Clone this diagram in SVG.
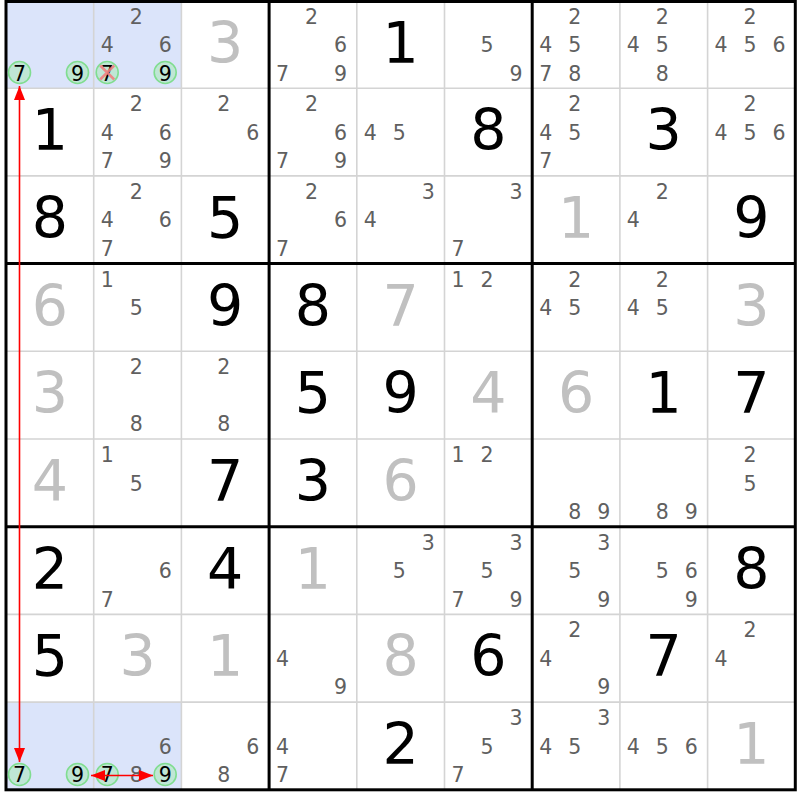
<svg xmlns="http://www.w3.org/2000/svg" width="800" height="800" viewBox="0 0 800 800">
<style>
text{font-family:"DejaVu Sans","Liberation Sans",sans-serif;text-anchor:middle}
.c{font-size:20.5px;fill:#606060}
.k{font-size:20.5px;fill:#000}
.v{font-size:57px;fill:#000}
.g{font-size:57px;fill:#c0c0c0}
.hl{fill:#dbe4fa}
.thin{stroke:#d4d4d4;stroke-width:1.6}
.thick{stroke:#000;stroke-width:3}
.ring{fill:#bfe6d5;stroke:#80dd90;stroke-width:1.6}
.arr{stroke:#ff0000;stroke-width:1.6;fill:none}
</style>
<defs>
<marker id="ah" viewBox="0 0 14 11" refX="14" refY="5.5" markerWidth="14" markerHeight="11" markerUnits="userSpaceOnUse" orient="auto-start-reverse"><path d="M0,0 L14,5.5 L0,11 z" fill="#ff0000"/></marker>
</defs>
<rect x="0" y="0" width="800" height="800" fill="#fff"/>
<g id="highlights">
<rect class="hl" x="6" y="0.5" width="175.4" height="87.7"/>
<rect class="hl" x="6" y="702.1" width="175.4" height="87.7"/>
</g>
<g id="grid">
<path class="thin" d="M93.7,0.5V789.8M181.4,0.5V789.8M356.8,0.5V789.8M444.5,0.5V789.8M619.9,0.5V789.8M707.6,0.5V789.8M6,88.2H795.3M6,175.9H795.3M6,351.3H795.3M6,439H795.3M6,614.4H795.3M6,702.1H795.3"/>
<path class="thick" d="M269.1,0.5V789.8M532.2,0.5V789.8M6,263.6H795.3M6,526.7H795.3"/>
<rect class="thick" x="6" y="1.5" width="789.3" height="788.3" fill="none"/>
</g>
<g id="rings">
<circle class="ring" cx="19.5" cy="72.5" r="11"/>
<circle class="ring" cx="77.5" cy="72.5" r="11"/>
<circle class="ring" cx="107.2" cy="72.5" r="11"/>
<circle class="ring" cx="165.2" cy="72.5" r="11"/>
<circle class="ring" cx="19.5" cy="774.5" r="11"/>
<circle class="ring" cx="77.5" cy="774.5" r="11"/>
<circle class="ring" cx="107.2" cy="774.5" r="11"/>
<circle class="ring" cx="165.2" cy="774.5" r="11"/>
</g>
<!-- row 0 -->
<g id="r0c0" transform="translate(6,0.5)"><text class="k" x="13.5" y="80">7</text><text class="k" x="71.5" y="80">9</text></g>
<g id="r0c1" transform="translate(93.7,0.5)"><text class="c" x="42.5" y="23">2</text><text class="c" x="13.5" y="51.5">4</text><text class="c" x="71.5" y="51.5">6</text><text class="k" x="13.5" y="80">7</text><text class="k" x="71.5" y="80">9</text><path d="M6.5,65 L20.5,79 M20.5,65 L6.5,79" stroke="#f08080" stroke-width="2.5" opacity="0.9"/></g>
<g id="r0c2" transform="translate(181.4,0.5)"><text class="g" x="43.85" y="62">3</text></g>
<g id="r0c3" transform="translate(269.1,0.5)"><text class="c" x="42.5" y="23">2</text><text class="c" x="71.5" y="51.5">6</text><text class="c" x="13.5" y="80">7</text><text class="c" x="71.5" y="80">9</text></g>
<g id="r0c4" transform="translate(356.8,0.5)"><text class="v" x="43.85" y="62">1</text></g>
<g id="r0c5" transform="translate(444.5,0.5)"><text class="c" x="42.5" y="51.5">5</text><text class="c" x="71.5" y="80">9</text></g>
<g id="r0c6" transform="translate(532.2,0.5)"><text class="c" x="42.5" y="23">2</text><text class="c" x="13.5" y="51.5">4</text><text class="c" x="42.5" y="51.5">5</text><text class="c" x="13.5" y="80">7</text><text class="c" x="42.5" y="80">8</text></g>
<g id="r0c7" transform="translate(619.9,0.5)"><text class="c" x="42.5" y="23">2</text><text class="c" x="13.5" y="51.5">4</text><text class="c" x="42.5" y="51.5">5</text><text class="c" x="42.5" y="80">8</text></g>
<g id="r0c8" transform="translate(707.6,0.5)"><text class="c" x="42.5" y="23">2</text><text class="c" x="13.5" y="51.5">4</text><text class="c" x="42.5" y="51.5">5</text><text class="c" x="71.5" y="51.5">6</text></g>
<!-- row 1 -->
<g id="r1c0" transform="translate(6,88.2)"><text class="v" x="43.85" y="62">1</text></g>
<g id="r1c1" transform="translate(93.7,88.2)"><text class="c" x="42.5" y="23">2</text><text class="c" x="13.5" y="51.5">4</text><text class="c" x="71.5" y="51.5">6</text><text class="c" x="13.5" y="80">7</text><text class="c" x="71.5" y="80">9</text></g>
<g id="r1c2" transform="translate(181.4,88.2)"><text class="c" x="42.5" y="23">2</text><text class="c" x="71.5" y="51.5">6</text></g>
<g id="r1c3" transform="translate(269.1,88.2)"><text class="c" x="42.5" y="23">2</text><text class="c" x="71.5" y="51.5">6</text><text class="c" x="13.5" y="80">7</text><text class="c" x="71.5" y="80">9</text></g>
<g id="r1c4" transform="translate(356.8,88.2)"><text class="c" x="13.5" y="51.5">4</text><text class="c" x="42.5" y="51.5">5</text></g>
<g id="r1c5" transform="translate(444.5,88.2)"><text class="v" x="43.85" y="62">8</text></g>
<g id="r1c6" transform="translate(532.2,88.2)"><text class="c" x="42.5" y="23">2</text><text class="c" x="13.5" y="51.5">4</text><text class="c" x="42.5" y="51.5">5</text><text class="c" x="13.5" y="80">7</text></g>
<g id="r1c7" transform="translate(619.9,88.2)"><text class="v" x="43.85" y="62">3</text></g>
<g id="r1c8" transform="translate(707.6,88.2)"><text class="c" x="42.5" y="23">2</text><text class="c" x="13.5" y="51.5">4</text><text class="c" x="42.5" y="51.5">5</text><text class="c" x="71.5" y="51.5">6</text></g>
<!-- row 2 -->
<g id="r2c0" transform="translate(6,175.9)"><text class="v" x="43.85" y="62">8</text></g>
<g id="r2c1" transform="translate(93.7,175.9)"><text class="c" x="42.5" y="23">2</text><text class="c" x="13.5" y="51.5">4</text><text class="c" x="71.5" y="51.5">6</text><text class="c" x="13.5" y="80">7</text></g>
<g id="r2c2" transform="translate(181.4,175.9)"><text class="v" x="43.85" y="62">5</text></g>
<g id="r2c3" transform="translate(269.1,175.9)"><text class="c" x="42.5" y="23">2</text><text class="c" x="71.5" y="51.5">6</text><text class="c" x="13.5" y="80">7</text></g>
<g id="r2c4" transform="translate(356.8,175.9)"><text class="c" x="71.5" y="23">3</text><text class="c" x="13.5" y="51.5">4</text></g>
<g id="r2c5" transform="translate(444.5,175.9)"><text class="c" x="71.5" y="23">3</text><text class="c" x="13.5" y="80">7</text></g>
<g id="r2c6" transform="translate(532.2,175.9)"><text class="g" x="43.85" y="62">1</text></g>
<g id="r2c7" transform="translate(619.9,175.9)"><text class="c" x="42.5" y="23">2</text><text class="c" x="13.5" y="51.5">4</text></g>
<g id="r2c8" transform="translate(707.6,175.9)"><text class="v" x="43.85" y="62">9</text></g>
<!-- row 3 -->
<g id="r3c0" transform="translate(6,263.6)"><text class="g" x="43.85" y="62">6</text></g>
<g id="r3c1" transform="translate(93.7,263.6)"><text class="c" x="13.5" y="23">1</text><text class="c" x="42.5" y="51.5">5</text></g>
<g id="r3c2" transform="translate(181.4,263.6)"><text class="v" x="43.85" y="62">9</text></g>
<g id="r3c3" transform="translate(269.1,263.6)"><text class="v" x="43.85" y="62">8</text></g>
<g id="r3c4" transform="translate(356.8,263.6)"><text class="g" x="43.85" y="62">7</text></g>
<g id="r3c5" transform="translate(444.5,263.6)"><text class="c" x="13.5" y="23">1</text><text class="c" x="42.5" y="23">2</text></g>
<g id="r3c6" transform="translate(532.2,263.6)"><text class="c" x="42.5" y="23">2</text><text class="c" x="13.5" y="51.5">4</text><text class="c" x="42.5" y="51.5">5</text></g>
<g id="r3c7" transform="translate(619.9,263.6)"><text class="c" x="42.5" y="23">2</text><text class="c" x="13.5" y="51.5">4</text><text class="c" x="42.5" y="51.5">5</text></g>
<g id="r3c8" transform="translate(707.6,263.6)"><text class="g" x="43.85" y="62">3</text></g>
<!-- row 4 -->
<g id="r4c0" transform="translate(6,351.3)"><text class="g" x="43.85" y="62">3</text></g>
<g id="r4c1" transform="translate(93.7,351.3)"><text class="c" x="42.5" y="23">2</text><text class="c" x="42.5" y="80">8</text></g>
<g id="r4c2" transform="translate(181.4,351.3)"><text class="c" x="42.5" y="23">2</text><text class="c" x="42.5" y="80">8</text></g>
<g id="r4c3" transform="translate(269.1,351.3)"><text class="v" x="43.85" y="62">5</text></g>
<g id="r4c4" transform="translate(356.8,351.3)"><text class="v" x="43.85" y="62">9</text></g>
<g id="r4c5" transform="translate(444.5,351.3)"><text class="g" x="43.85" y="62">4</text></g>
<g id="r4c6" transform="translate(532.2,351.3)"><text class="g" x="43.85" y="62">6</text></g>
<g id="r4c7" transform="translate(619.9,351.3)"><text class="v" x="43.85" y="62">1</text></g>
<g id="r4c8" transform="translate(707.6,351.3)"><text class="v" x="43.85" y="62">7</text></g>
<!-- row 5 -->
<g id="r5c0" transform="translate(6,439)"><text class="g" x="43.85" y="62">4</text></g>
<g id="r5c1" transform="translate(93.7,439)"><text class="c" x="13.5" y="23">1</text><text class="c" x="42.5" y="51.5">5</text></g>
<g id="r5c2" transform="translate(181.4,439)"><text class="v" x="43.85" y="62">7</text></g>
<g id="r5c3" transform="translate(269.1,439)"><text class="v" x="43.85" y="62">3</text></g>
<g id="r5c4" transform="translate(356.8,439)"><text class="g" x="43.85" y="62">6</text></g>
<g id="r5c5" transform="translate(444.5,439)"><text class="c" x="13.5" y="23">1</text><text class="c" x="42.5" y="23">2</text></g>
<g id="r5c6" transform="translate(532.2,439)"><text class="c" x="42.5" y="80">8</text><text class="c" x="71.5" y="80">9</text></g>
<g id="r5c7" transform="translate(619.9,439)"><text class="c" x="42.5" y="80">8</text><text class="c" x="71.5" y="80">9</text></g>
<g id="r5c8" transform="translate(707.6,439)"><text class="c" x="42.5" y="23">2</text><text class="c" x="42.5" y="51.5">5</text></g>
<!-- row 6 -->
<g id="r6c0" transform="translate(6,526.7)"><text class="v" x="43.85" y="62">2</text></g>
<g id="r6c1" transform="translate(93.7,526.7)"><text class="c" x="71.5" y="51.5">6</text><text class="c" x="13.5" y="80">7</text></g>
<g id="r6c2" transform="translate(181.4,526.7)"><text class="v" x="43.85" y="62">4</text></g>
<g id="r6c3" transform="translate(269.1,526.7)"><text class="g" x="43.85" y="62">1</text></g>
<g id="r6c4" transform="translate(356.8,526.7)"><text class="c" x="71.5" y="23">3</text><text class="c" x="42.5" y="51.5">5</text></g>
<g id="r6c5" transform="translate(444.5,526.7)"><text class="c" x="71.5" y="23">3</text><text class="c" x="42.5" y="51.5">5</text><text class="c" x="13.5" y="80">7</text><text class="c" x="71.5" y="80">9</text></g>
<g id="r6c6" transform="translate(532.2,526.7)"><text class="c" x="71.5" y="23">3</text><text class="c" x="42.5" y="51.5">5</text><text class="c" x="71.5" y="80">9</text></g>
<g id="r6c7" transform="translate(619.9,526.7)"><text class="c" x="42.5" y="51.5">5</text><text class="c" x="71.5" y="51.5">6</text><text class="c" x="71.5" y="80">9</text></g>
<g id="r6c8" transform="translate(707.6,526.7)"><text class="v" x="43.85" y="62">8</text></g>
<!-- row 7 -->
<g id="r7c0" transform="translate(6,614.4)"><text class="v" x="43.85" y="62">5</text></g>
<g id="r7c1" transform="translate(93.7,614.4)"><text class="g" x="43.85" y="62">3</text></g>
<g id="r7c2" transform="translate(181.4,614.4)"><text class="g" x="43.85" y="62">1</text></g>
<g id="r7c3" transform="translate(269.1,614.4)"><text class="c" x="13.5" y="51.5">4</text><text class="c" x="71.5" y="80">9</text></g>
<g id="r7c4" transform="translate(356.8,614.4)"><text class="g" x="43.85" y="62">8</text></g>
<g id="r7c5" transform="translate(444.5,614.4)"><text class="v" x="43.85" y="62">6</text></g>
<g id="r7c6" transform="translate(532.2,614.4)"><text class="c" x="42.5" y="23">2</text><text class="c" x="13.5" y="51.5">4</text><text class="c" x="71.5" y="80">9</text></g>
<g id="r7c7" transform="translate(619.9,614.4)"><text class="v" x="43.85" y="62">7</text></g>
<g id="r7c8" transform="translate(707.6,614.4)"><text class="c" x="42.5" y="23">2</text><text class="c" x="13.5" y="51.5">4</text></g>
<!-- row 8 -->
<g id="r8c0" transform="translate(6,702.1)"><text class="k" x="13.5" y="80">7</text><text class="k" x="71.5" y="80">9</text></g>
<g id="r8c1" transform="translate(93.7,702.1)"><text class="c" x="71.5" y="51.5">6</text><text class="k" x="13.5" y="80">7</text><text class="c" x="42.5" y="80">8</text><text class="k" x="71.5" y="80">9</text></g>
<g id="r8c2" transform="translate(181.4,702.1)"><text class="c" x="71.5" y="51.5">6</text><text class="c" x="42.5" y="80">8</text></g>
<g id="r8c3" transform="translate(269.1,702.1)"><text class="c" x="13.5" y="51.5">4</text><text class="c" x="13.5" y="80">7</text></g>
<g id="r8c4" transform="translate(356.8,702.1)"><text class="v" x="43.85" y="62">2</text></g>
<g id="r8c5" transform="translate(444.5,702.1)"><text class="c" x="71.5" y="23">3</text><text class="c" x="42.5" y="51.5">5</text><text class="c" x="13.5" y="80">7</text></g>
<g id="r8c6" transform="translate(532.2,702.1)"><text class="c" x="71.5" y="23">3</text><text class="c" x="13.5" y="51.5">4</text><text class="c" x="42.5" y="51.5">5</text></g>
<g id="r8c7" transform="translate(619.9,702.1)"><text class="c" x="13.5" y="51.5">4</text><text class="c" x="42.5" y="51.5">5</text><text class="c" x="71.5" y="51.5">6</text></g>
<g id="r8c8" transform="translate(707.6,702.1)"><text class="g" x="43.85" y="62">1</text></g>
<g id="connectors">
<line class="arr" x1="19.5" y1="86" x2="19.5" y2="762" marker-start="url(#ah)" marker-end="url(#ah)"/>
<line class="arr" x1="91" y1="775.5" x2="153" y2="775.5" marker-start="url(#ah)" marker-end="url(#ah)"/>
</g>
</svg>
